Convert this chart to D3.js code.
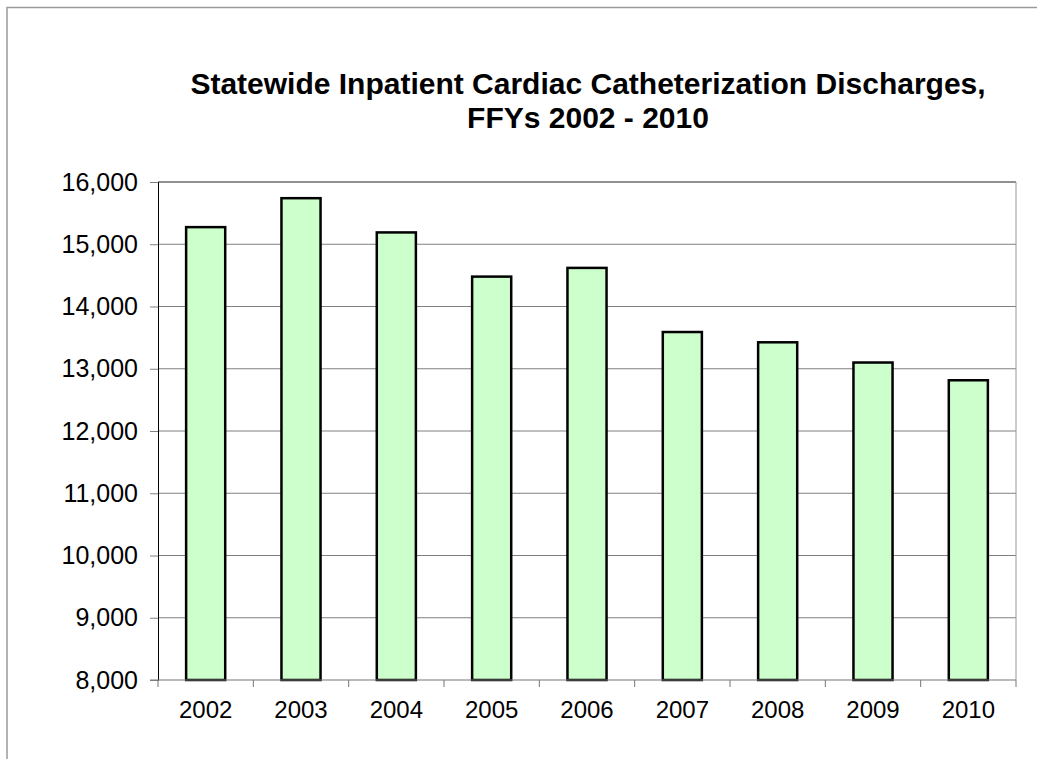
<!DOCTYPE html>
<html>
<head>
<meta charset="utf-8">
<script src="https://cdn.jsdelivr.net/npm/d3@7"></script>
<style>
  body { margin: 0; background: #fff; }
  text { font-family: "Liberation Sans", Arial, sans-serif; }
</style>
</head>
<body>
<div id="chart"></div>
<script>
// Données
const years = ["2002", "2003", "2004", "2005", "2006", "2007", "2008", "2009", "2010"];
const discharges = [15275, 15740, 15190, 14480, 14620, 13590, 13425, 13100, 12815];
const yTicks = [8000, 9000, 10000, 11000, 12000, 13000, 14000, 15000, 16000];
const titleLines = ["Statewide Inpatient Cardiac Catheterization Discharges,", "FFYs 2002 - 2010"];

const W = 1037, H = 759;
const margin = { top: 182, right: 21, bottom: 79, left: 158 };
const width = W - margin.left - margin.right;
const height = H - margin.top - margin.bottom;

const svg = d3.select("#chart")
    .append("svg")
    .attr("width", W)
    .attr("height", H);

// Bordure extérieure
svg.append("path")
    .attr("d", `M7,${H} L7,7.5 L${W},7.5`)
    .attr("fill", "none")
    .attr("stroke", "#9a9a9a")
    .attr("stroke-width", 1.5);

// Titre
svg.append("text")
    .attr("x", 588)
    .attr("y", 94)
    .attr("text-anchor", "middle")
    .attr("font-size", "30px")
    .attr("font-weight", "bold")
    .selectAll("tspan")
    .data(titleLines)
    .join("tspan")
    .attr("x", 588)
    .attr("dy", (d, i) => i === 0 ? 0 : 34)
    .text(d => d);

const g = svg.append("g")
    .attr("transform", `translate(${margin.left},${margin.top})`);

const x = d3.scaleBand()
    .domain(years)
    .range([0, width])
    .paddingInner(0.59)
    .paddingOuter(0.295);

const xBand = d3.scaleBand().domain(years).range([0, width]);

const y = d3.scaleLinear()
    .domain([8000, 16000])
    .range([height, 0]);

// Grille
g.append("g")
    .selectAll("line")
    .data(yTicks.filter(d => d > 8000 && d < 16000))
    .join("line")
    .attr("x1", 0)
    .attr("x2", width)
    .attr("y1", d => y(d))
    .attr("y2", d => y(d))
    .attr("stroke", "#808080")
    .attr("stroke-width", 1);

// Bordure de la zone de tracé
g.append("line")
    .attr("x1", 0).attr("x2", width)
    .attr("y1", 0).attr("y2", 0)
    .attr("stroke", "#222").attr("stroke-width", 1);
g.append("line")
    .attr("x1", width).attr("x2", width)
    .attr("y1", 0).attr("y2", height)
    .attr("stroke", "#999").attr("stroke-width", 1);

// Barres
g.append("g")
    .selectAll("rect")
    .data(discharges)
    .join("rect")
    .attr("x", (d, i) => x(years[i]))
    .attr("y", d => y(d))
    .attr("width", x.bandwidth())
    .attr("height", d => height - y(d))
    .attr("fill", "#ccffcc")
    .attr("stroke", "#000")
    .attr("stroke-width", 2.5);

// Axe Y
const yAxis = g.append("g")
    .call(d3.axisLeft(y).tickValues(yTicks).tickSize(8).tickPadding(12).tickFormat(d3.format(",")));
yAxis.select(".domain").attr("stroke", "#000");
yAxis.selectAll(".tick line").attr("stroke", "#808080");
yAxis.selectAll("text")
    .attr("font-size", "25px")
    .attr("font-family", "'Liberation Sans', Arial, sans-serif")
    .attr("fill", "#000");

// Axe X
const xAxis = g.append("g")
    .attr("transform", `translate(0,${height})`);
xAxis.append("line")
    .attr("x1", -8).attr("x2", width)
    .attr("stroke", "#777").attr("stroke-width", 1.2);
xAxis.selectAll("line.tk")
    .data(years.concat(["end"]))
    .join("line")
    .attr("class", "tk")
    .attr("x1", (d, i) => i * xBand.bandwidth())
    .attr("x2", (d, i) => i * xBand.bandwidth())
    .attr("y1", 0).attr("y2", 7)
    .attr("stroke", "#777");
xAxis.selectAll("text")
    .data(years)
    .join("text")
    .attr("x", d => xBand(d) + xBand.bandwidth() / 2)
    .attr("y", 38)
    .attr("text-anchor", "middle")
    .attr("font-size", "24px")
    .text(d => d);
</script>
</body>
</html>
